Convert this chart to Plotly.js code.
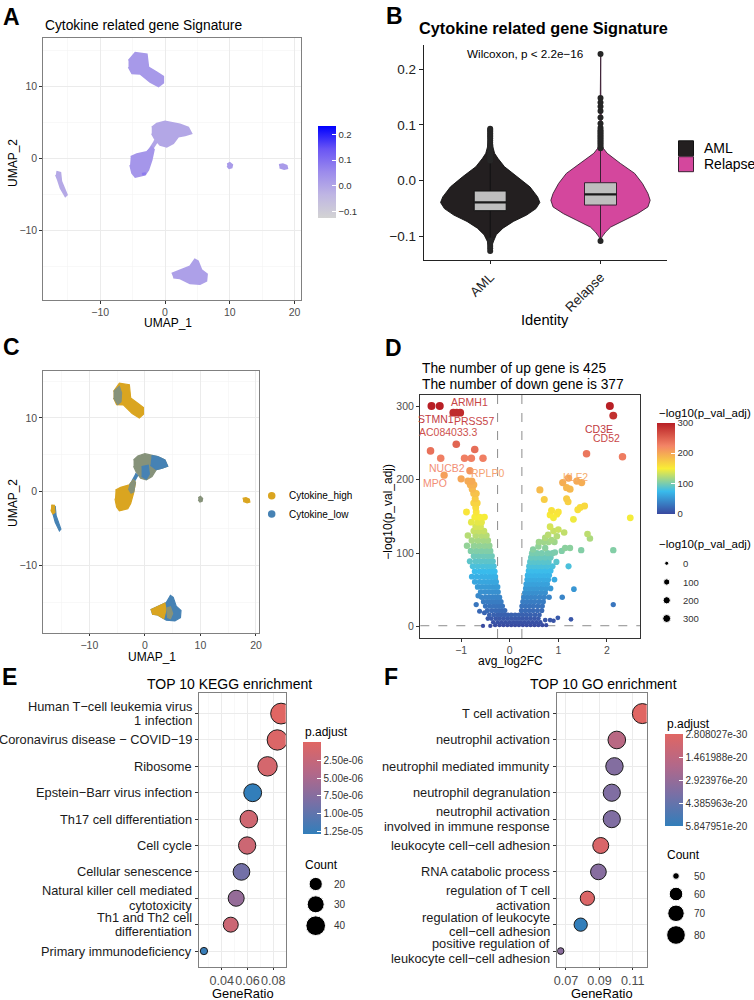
<!DOCTYPE html>
<html><head><meta charset="utf-8">
<script src="https://cdn.plot.ly/plotly-3.0.1.min.js"></script>
<style>html,body{margin:0;padding:0;background:#fff}#chart{width:754px;height:1000px}</style>
</head><body><div id="chart"></div>
<script>
// ================= DATA =================
// Panel A / C : UMAP cluster outlines (UMAP_1, UMAP_2)
const clusterTopX = [-5.64,-4.6,-2.8,-2.56,-1.28,-0.26,-0.26,-1.0,-2.3,-3.85,-5.1,-5.64];
const clusterTopY = [13.6,14.7,14.5,12.7,12.0,11.4,10.5,10.0,10.6,11.75,11.8,12.7];
const clusterMidUpX = [-2.05,-1.28,0,2.3,3.6,4.1,3.1,2.05,1.28,0.26,-0.77,-1.54,-2.05];
const clusterMidUpY = [4.3,4.84,5.16,4.75,4.3,3.46,3.2,3.0,2.07,1.6,1.84,2.63,3.46];
const clusterBridgeX = [-1.7,-1.3,-2.3,-2.7];
const clusterBridgeY = [2.5,2.2,0.8,1.1];
const clusterMidLowX = [-5.3,-4.36,-2.82,-2.05,-1.7,-2.05,-2.56,-3.08,-4.6,-5.1,-5.4];
const clusterMidLowY = [0.23,0.6,0.92,1.6,1.25,-0.23,-1.6,-2.3,-2.6,-2.07,-0.92];
const clusterStreakX = [-16.77,-16.15,-16.0,-15.13,-15.4,-16.15,-16.56,-16.87];
const clusterStreakY = [-1.84,-1.98,-3.2,-5.07,-5.3,-4.15,-3.0,-2.3];
const clusterB10X = [9.6,10.0,10.4,10.3,9.9,9.6];
const clusterB10Y = [-0.8,-0.6,-0.9,-1.3,-1.4,-1.1];
const clusterB18X = [17.6,18.2,18.8,18.9,18.4,17.7];
const clusterB18Y = [-0.9,-0.8,-1.0,-1.4,-1.5,-1.3];
const clusterBottomX = [1.03,2.3,3.85,4.6,5.1,5.64,6.5,6.4,5.4,3.85,2.3,1.28];
const clusterBottomY = [-16.0,-15.5,-15.0,-14.05,-14.3,-15.5,-16.1,-17.05,-17.5,-17.4,-16.7,-16.6];
const spotX = [-3.6,-3.0,-2.95,-3.5];
const spotY = [-2.05,-1.95,-2.25,-2.35];
// Panel A: mean signature score of each outline (same order as drawn) and score range
const clusterScore = [0.025,-0.005,0.0,0.03,-0.01,0.02,0.02,0.01,0.08];
const scoreRange = [-0.125,0.231];
const scoreBreaks = [-0.1,0.0,0.1,0.2];
// Panel C: sub-regions dominated by each group
const cTopMixX = [-5.64,-4.6,-4.2,-4.3,-4.9,-5.64];
const cTopMixY = [13.6,14.3,13.4,12.2,11.8,12.7];
const cMidUpLowX = [1.2,2.3,3.6,4.1,3.1,2.05,1.0];
const cMidUpLowY = [4.9,4.75,4.3,3.46,3.2,3.0,3.6];
const cMidUpLow2X = [-0.6,0.6,0.8,0.26,-0.6];
const cMidUpLow2Y = [3.4,3.6,2.4,1.7,2.1];
const cMidLowMixX = [-2.82,-2.05,-1.7,-2.0,-2.5,-3.0];
const cMidLowMixY = [0.92,1.6,1.25,0.0,-0.2,0.4];
const cStreakHighX = [-16.87,-16.3,-16.2,-16.6,-16.95];
const cStreakHighY = [-1.8,-1.85,-2.8,-3.0,-2.5];
const cBottomHighX = [1.03,2.3,3.6,3.8,3.4,2.3,1.28];
const cBottomHighY = [-16.0,-15.5,-15.1,-16.0,-17.2,-16.7,-16.6];
const cBottomMixX = [3.8,4.6,5.0,4.6,4.0];
const cBottomMixY = [-15.8,-15.6,-16.5,-17.2,-17.0];
const cytoGroups = ['Cytokine_high','Cytokine_low'];

// Panel B: violin profiles (score level, half width), box stats, outliers
const identities = ['AML','Relapse'];
const amlDensY = [-0.126,-0.117,-0.109,-0.097,-0.085,-0.073,-0.0615,-0.050,-0.039,-0.029,-0.011,0.007,0.025,0.040,0.049,0.060,0.075,0.093];
const amlDensW = [0.003,0.012,0.025,0.055,0.116,0.21,0.33,0.415,0.45,0.43,0.36,0.25,0.13,0.07,0.04,0.025,0.014,0.004];
const relDensY = [-0.108,-0.101,-0.092,-0.083,-0.071,-0.059,-0.047,-0.035,-0.023,-0.005,0.013,0.031,0.049,0.058,0.064,0.075,0.150,0.227];
const relDensW = [0.003,0.012,0.046,0.092,0.214,0.336,0.43,0.45,0.43,0.38,0.31,0.18,0.061,0.025,0.012,0.006,0.003,0.002];
const boxQ1 = [-0.0537,-0.0436];
const boxMedian = [-0.0388,-0.0245];
const boxQ3 = [-0.0185,-0.0036];
const boxLowerFence = [-0.105,-0.103];
const boxUpperFence = [0.034,0.056];
const amlOutliers = [0.036,0.040,0.044,0.048,0.052,0.056,0.060,0.064,0.068,0.072,0.076,0.079,0.082,0.085,0.088,0.091,0.093,-0.107,-0.110,-0.113,-0.117,-0.121,-0.126];
const relOutliers = [0.058,0.061,0.064,0.067,0.070,0.073,0.076,0.079,0.082,0.085,0.088,0.091,0.095,0.1025,0.113,0.125,0.133,0.140,0.148,0.227,-0.108];

// Panel D: volcano rows  [-log10(p_val_adj), [avg_log2FC ...]]
const volcanoLeftRows = [
 [300,[-1.61,-1.44]],[291,[-1.16,-1.09,-1.02]],[248,[-1.10]],[241,[-0.72]],[239,[-1.63]],
 [229,[-1.42,-0.93,-0.79,-0.55]],[212,[-0.82]],[206,[-1.35]],[201,[-1.00]],[198,[-0.86,-0.78]],
 [193,[-0.81,-0.74]],[187,[-0.77]],[181,[-0.74,-0.69]],[174,[-0.71]],[168,[-0.74,-0.67]],[162,[-0.70]],
 [156,[-0.89,-0.69]],[149,[-0.72,-0.62,-0.52]],[142,[-0.79,-0.66,-0.58]],[136,[-0.70,-0.60]],
 [130,[-0.74,-0.63,-0.53]],[124,[-0.86,-0.70,-0.58,-0.48]],[117,[-0.78,-0.66,-0.55,-0.45]],
 [110,[-0.88,-0.74,-0.63,-0.52,-0.42]],[103,[-0.80,-0.69,-0.58,-0.48,-0.40]],[96,[-0.74,-0.64,-0.54,-0.45,-0.37]],
 [89,[-0.82,-0.70,-0.60,-0.50,-0.42,-0.35]],[82,[-0.76,-0.66,-0.56,-0.47,-0.39,-0.33]],
 [75,[-0.72,-0.62,-0.53,-0.44,-0.37,-0.31]],[68,[-0.78,-0.68,-0.58,-0.50,-0.42,-0.35,-0.30]],
 [61,[-0.72,-0.62,-0.53,-0.45,-0.38,-0.32,-0.28]],[54,[-0.66,-0.57,-0.49,-0.42,-0.35,-0.29,-0.25]],
 [47,[-0.60,-0.51,-0.43,-0.36,-0.30,-0.24]],[42,[-0.65]],[40,[-0.58,-0.49,-0.41,-0.34,-0.27,-0.21]],
 [34,[-0.54,-0.45,-0.37,-0.30,-0.24,-0.18]],[30,[-0.69]],[28,[-0.50,-0.41,-0.33,-0.26,-0.20,-0.15]],
 [22,[-0.46,-0.37,-0.29,-0.22,-0.16,-0.10]],[21,[-0.62]],[19,[-0.52]],
 [16,[-0.42,-0.33,-0.25,-0.18,-0.11,-0.04,0.03]],[11,[-0.45,-0.38,-0.29,-0.21,-0.13,-0.05,0.03,0.11,0.19]],
 [6,[-0.34,-0.25,-0.17,-0.09,-0.01,0.07,0.15,0.23,0.31]],[2,[-0.30,-0.21,-0.13,-0.05,0.03,0.11,0.19,0.27,0.35]],
 [1,[-0.55,-0.40]]
];
const volcanoRightRows = [
 [300,[2.06]],[287,[2.13]],[235,[1.58]],[231,[2.32]],[202,[1.21]],[198,[1.38]],[196,[1.09,1.48]],
 [189,[1.17]],[187,[1.24]],[186,[0.62]],[174,[1.17]],[173,[0.71]],[170,[1.20]],[164,[1.54]],[162,[1.45]],
 [159,[1.40]],[158,[0.86]],[156,[1.00]],[153,[0.97]],[152,[0.83]],[148,[0.90,2.48]],[146,[1.31]],
 [136,[0.83]],[132,[1.00]],[130,[0.90]],[128,[1.12]],[126,[1.60]],[125,[0.79]],[123,[0.97]],[121,[0.73]],
 [120,[1.65]],[118,[0.86]],[115,[0.60,0.70,0.80,0.92]],[109,[0.59]],[107,[0.73,1.14,1.24]],[105,[0.48]],
 [104,[1.47,2.13]],[103,[1.07]],[101,[0.93]],[100,[0.46,0.56,0.66,0.78,0.88]],[94,[0.44,0.53,0.63,0.73,0.84]],
 [88,[0.42,0.51,0.60,0.70,0.80,0.96]],[82,[0.40,0.49,0.58,0.67,0.77,0.88,1.21]],[76,[0.39,0.47,0.56,0.65,0.74,0.84]],
 [70,[0.37,0.45,0.54,0.63,0.72,0.81]],[64,[0.36,0.44,0.52,0.61,0.70,0.79,0.92]],[58,[0.34,0.42,0.50,0.59,0.68,0.77]],
 [52,[0.33,0.41,0.49,0.57,0.66,0.75,0.84]],[51,[1.32]],[46,[0.31,0.39,0.47,0.55,0.64,0.73]],
 [40,[0.29,0.37,0.45,0.53,0.62,0.71,0.81,1.08]],[34,[0.27,0.35,0.43,0.51,0.60,0.69]],[30,[2.13]],
 [28,[0.25,0.33,0.41,0.49,0.58,0.67]],[22,[0.24,0.32,0.40,0.48,0.57,0.66]],[16,[0.11,0.19,0.27,0.35,0.43,0.52,0.61]],
 [12,[0.99]],[11,[0.27,0.35,0.43,0.51,0.59]],[10,[1.26]],[9,[0.73,0.83]],[8,[0.90]],
 [6,[0.39,0.47,0.55,0.63]],[2,[0.43,0.51,0.59,0.67,0.75]]
];
const volcanoLabelGene = ['STMN1','ARMH1','PRSS57','AC084033.3','NUCB2','MPO','RPLP0','CD3E','CD52','KLF2'];
const volcanoLabelX = [-1.51,-0.83,-0.74,-1.26,-1.29,-1.54,-0.45,1.83,1.99,1.35];
const volcanoLabelY = [283,305,280,265,216,196,209,269,256,204];
const volcanoLabelP = [300,291,291,280,229,229,212,300,288,204];
const upCount = 425, downCount = 377;
const fcCut = 0.25, pCut = -Math.log10(0.05);
const logPBreaks = [0,100,200,300];

// Panel E: KEGG
const keggTerms = ['Human T−cell leukemia virus<br>1 infection','Coronavirus disease − COVID−19','Ribosome','Epstein−Barr virus infection','Th17 cell differentiation','Cell cycle','Cellular senescence','Natural killer cell mediated<br>cytotoxicity','Th1 and Th2 cell<br>differentiation','Primary immunodeficiency'];
const keggRatio = [0.0860,0.0831,0.0755,0.0640,0.0610,0.0597,0.0553,0.0512,0.0470,0.0262];
const keggCount = [45,43,39,33,32,31,29,27,24,14];
const keggPadj = [2e-9,5.0e-7,1.2e-6,1.29e-5,1.6e-6,1.9e-6,8.8e-6,6.5e-6,2.0e-6,1.25e-5];
const keggPBreaks = [2.5e-6,5.0e-6,7.5e-6,1.0e-5,1.25e-5];
const keggCountBreaks = [20,30,40];

// Panel F: GO
const goTerms = ['T cell activation','neutrophil activation','neutrophil mediated immunity','neutrophil degranulation','neutrophil activation<br>involved in immune response','leukocyte cell−cell adhesion','RNA catabolic process','regulation of T cell<br>activation','regulation of leukocyte<br>cell−cell adhesion','positive regulation of<br>leukocyte cell−cell adhesion'];
const goRatio = [0.1157,0.1004,0.0990,0.0974,0.0974,0.0908,0.0894,0.0828,0.0788,0.0668];
const goCount = [87,75,74,73,73,68,67,62,59,50];
const goPadj = [2.808027e-30,1.7e-20,3.5e-20,3.6e-20,3.6e-20,3e-21,3.4e-20,2e-21,5.847951e-20,3.3e-20];
const goCountBreaks = [50,60,70,80];

// ================= STYLE / HELPERS =================
const FONT = '"Liberation Sans", Arial, Helvetica, sans-serif';
const W = 754, H = 1000;
const X = p => p / W, Y = p => 1 - p / H;
const scoreScale = [[0,'#D3D3D3'],[0.25,'#BFB6E3'],[0.5,'#9C8BEC'],[0.75,'#6A55F4'],[1,'#0000FF']];
const volcScale = [[0,'#39489f'],[0.25,'#39bbec'],[0.5,'#f9ed36'],[0.75,'#f38466'],[1,'#b81f25']];
const padjScale = [[0,'#327eba'],[0.35,'#7a6fa5'],[0.65,'#b1688a'],[1,'#e06663']];
const groupColor = {high:'#DAA520', low:'#4682B4', mix:'#86927A'};
function hex(h){h=h.replace('#','');return [0,2,4].map(i=>parseInt(h.substr(i,2),16));}
function scaleColor(scale,t,white){t=Math.max(0,Math.min(1,t));
  for(let i=1;i<scale.length;i++){ if(t<=scale[i][0]){const a=scale[i-1],b=scale[i];const f=(t-a[0])/(b[0]-a[0]);const ca=hex(a[1]),cb=hex(b[1]);
    let c=ca.map((v,k)=>v+(cb[k]-v)*f); if(white) c=c.map(v=>v+(255-v)*white); return 'rgb('+c.map(Math.round).join(',')+')';}}
  return scale[scale.length-1][1];}
function fmtE(v,d){const s=v.toExponential(d).split('e');let e=s[1];const sg=e[0]==='-'?'-':'+';e=e.replace(/^[+-]/,'');if(e.length<2)e='0'+e;return s[0]+'e'+sg+e;}
const mean = a => a.reduce((s,v)=>s+v,0)/a.length;

const traces = [];
const poly = (x,y,col,xa,ya,lw) => ({type:'scatter',mode:'lines',x:x,y:y,fill:'toself',fillcolor:col,line:{color:col,width:lw===undefined?1.6:lw},xaxis:xa,yaxis:ya,hoverinfo:'skip',showlegend:false});

// ---------- Panel A ----------
const aPolys = [[clusterTopX,clusterTopY],[clusterMidUpX,clusterMidUpY],[clusterBridgeX,clusterBridgeY],[clusterMidLowX,clusterMidLowY],
  [clusterStreakX,clusterStreakY],[clusterB10X,clusterB10Y],[clusterB18X,clusterB18Y],[clusterBottomX,clusterBottomY],[spotX,spotY]];
const tOf = s => (s-scoreRange[0])/(scoreRange[1]-scoreRange[0]);
aPolys.forEach((p,i)=>traces.push(poly(p[0],p[1],scaleColor(scoreScale,tOf(clusterScore[i])),'x','y',i===8?0.3:1.6)));
traces.push({type:'scatter',mode:'markers',x:aPolys.map(p=>mean(p[0])),y:aPolys.map(p=>mean(p[1])),xaxis:'x',yaxis:'y',hoverinfo:'skip',showlegend:false,
  marker:{size:0,opacity:0,color:clusterScore,colorscale:scoreScale,cmin:scoreRange[0],cmax:scoreRange[1],showscale:true,
  colorbar:{x:X(318.3),xanchor:'left',y:Y(172.2),yanchor:'middle',len:0.0923,lenmode:'fraction',thickness:18,thicknessmode:'pixels',xpad:0,ypad:0,outlinewidth:0,
   ticks:'inside',ticklen:4,tickcolor:'#fff',tickvals:scoreBreaks,tickformat:'.1f',tickfont:{size:9.5,color:'#333',family:FONT}}}});

// ---------- Panel C ----------
const cPolys = [
 [clusterTopX,clusterTopY,'high'],[cTopMixX,cTopMixY,'mix'],
 [clusterMidUpX,clusterMidUpY,'mix'],[cMidUpLowX,cMidUpLowY,'low'],[cMidUpLow2X,cMidUpLow2Y,'low'],
 [clusterBridgeX,clusterBridgeY,'low'],
 [clusterMidLowX,clusterMidLowY,'high'],[cMidLowMixX,cMidLowMixY,'mix'],
 [clusterStreakX,clusterStreakY,'low'],[cStreakHighX,cStreakHighY,'high'],
 [clusterB10X,clusterB10Y,'mix'],[clusterB18X,clusterB18Y,'high'],
 [clusterBottomX,clusterBottomY,'low'],[cBottomHighX,cBottomHighY,'high'],[cBottomMixX,cBottomMixY,'mix']];
cPolys.forEach(p=>traces.push(poly(p[0],p[1],groupColor[p[2]],'x3','y3',1.2)));

// ---------- Panel B ----------
const violinFill = ['#231F20','#D4479D'], violinLine = ['#111111','#3a1f33'];
const boxHalf = 0.145;
const bLine = (x,y,c,w) => ({type:'scatter',mode:'lines',x:x,y:y,line:{color:c,width:w},xaxis:'x2',yaxis:'y2',hoverinfo:'skip',showlegend:false});
[[amlDensY,amlDensW],[relDensY,relDensW]].forEach((d,g)=>{
  const ys=d[0], ws=d[1];
  const xs = ws.map(w=>g-w).concat(ws.slice().reverse().map(w=>g+w));
  const yy = ys.concat(ys.slice().reverse());
  traces.push({type:'scatter',mode:'lines',x:xs,y:yy,fill:'toself',fillcolor:violinFill[g],line:{color:violinLine[g],width:0.9},xaxis:'x2',yaxis:'y2',hoverinfo:'skip',showlegend:false});
  traces.push(bLine([g,g],[boxQ3[g],boxUpperFence[g]],violinLine[g],1));
  traces.push(bLine([g,g],[boxQ1[g],boxLowerFence[g]],violinLine[g],1));
  traces.push({type:'scatter',mode:'lines',x:[g-boxHalf,g+boxHalf,g+boxHalf,g-boxHalf,g-boxHalf],y:[boxQ1[g],boxQ1[g],boxQ3[g],boxQ3[g],boxQ1[g]],
    fill:'toself',fillcolor:'#BEBEBE',line:{color:violinLine[g],width:1},xaxis:'x2',yaxis:'y2',hoverinfo:'skip',showlegend:false});
  traces.push(bLine([g-boxHalf,g+boxHalf],[boxMedian[g],boxMedian[g]],'#1a1a1a',2.4));
});
[amlOutliers,relOutliers].forEach((o,g)=>traces.push({type:'scatter',mode:'markers',x:o.map(()=>g),y:o,marker:{size:6,color:'#262626',opacity:1},xaxis:'x2',yaxis:'y2',hoverinfo:'skip',showlegend:false}));

// ---------- Panel D ----------
const vFC=[], vP=[];
volcanoLeftRows.concat(volcanoRightRows).sort((a,b)=>a[0]-b[0]).forEach(r=>r[1].forEach(x=>{vFC.push(x);vP.push(r[0]);}));
const vSize = p => 4 + 4*Math.sqrt(Math.max(p,0)/300);
traces.push({type:'scatter',mode:'markers',x:vFC,y:vP,xaxis:'x4',yaxis:'y4',hoverinfo:'skip',showlegend:false,
  marker:{size:vP.map(vSize),opacity:1,color:vP,colorscale:volcScale,cmin:0,cmax:300,line:{width:0},showscale:true,
   colorbar:{x:X(657.3),xanchor:'left',y:Y(468.3),yanchor:'middle',len:0.0913,lenmode:'fraction',thickness:18,thicknessmode:'pixels',xpad:0,ypad:0,outlinewidth:0,
    ticks:'inside',ticklen:4,tickcolor:'#fff',tickvals:logPBreaks,tickfont:{size:9.5,color:'#333',family:FONT}}}});

// ---------- Panel E / F ----------
function sizeFn(counts,dmin,span){const cmin=Math.min(...counts),cmax=Math.max(...counts);return c=>dmin+span*Math.sqrt(Math.max(0,(c-cmin)/(cmax-cmin)));}
const eSize = sizeFn(keggCount,7.3,13.5);
const fSize = sizeFn(goCount,6.7,13.3);
function dotTrace(ratio,terms,counts,padj,sz,xa,ya,breaks,fmt,cbx,cby){
  const pmin=Math.min(...padj),pmax=Math.max(...padj);
  return {type:'scatter',mode:'markers',x:ratio,y:terms,xaxis:xa,yaxis:ya,hoverinfo:'skip',showlegend:false,cliponaxis:true,
    marker:{size:counts.map(sz),opacity:1,color:padj.map(p=>-p),cmin:-pmax,cmax:-pmin,colorscale:padjScale,line:{color:'#1a1a1a',width:1},showscale:true,
     colorbar:{x:cbx,xanchor:'left',y:cby,yanchor:'middle',len:0.0915,lenmode:'fraction',thickness:18,thicknessmode:'pixels',xpad:0,ypad:0,outlinewidth:0,
      ticks:'inside',ticklen:4,tickcolor:'#fff',tickvals:breaks.map(p=>-p),ticktext:breaks.map(fmt),tickfont:{size:10,color:'#333',family:FONT}}}};
}
traces.push(dotTrace(keggRatio,keggTerms,keggCount,keggPadj,eSize,'x5','y5',keggPBreaks,v=>fmtE(v,2),X(303.3),Y(788.5)));
const gmin=Math.min(...goPadj),gmax=Math.max(...goPadj);
const goPBreaks=[0,1,2,3,4].map(k=>gmin+k*(gmax-gmin)/4);
traces.push(dotTrace(goRatio,goTerms,goCount,goPadj,fSize,'x6','y6',goPBreaks,v=>fmtE(v,6),X(665),Y(780.5)));

// ---------- legend keys (page overlay, pixel coordinates) ----------
const ov = (x,y,m) => ({type:'scatter',mode:'markers',x:x,y:y,marker:Object.assign({opacity:1},m),xaxis:'x7',yaxis:'y7',hoverinfo:'skip',showlegend:false,cliponaxis:false});
traces.push(ov([686,686],[148.3,164.2],{symbol:'square',size:15,color:violinFill,line:{color:violinLine,width:1}}));
traces.push(ov([271.7,271.7],[495.7,514],{size:7.5,color:[groupColor.high,groupColor.low]}));
const dLegY=[563.3,582,600.3,618.5];
traces.push(ov(logPBreaks.map(()=>666.7),dLegY,{size:logPBreaks.map(vSize),color:'#000'}));
const eLegY=[884,904.3,925.7];
traces.push(ov(keggCountBreaks.map(()=>315.7),eLegY,{size:keggCountBreaks.map(eSize),color:'#000'}));
const fLegY=[876,894,913.3,935];
traces.push(ov(goCountBreaks.map(()=>676),fLegY,{size:goCountBreaks.map(fSize),color:'#000'}));

// ================= LAYOUT =================
const tickA = {size:10.5,color:'#4D4D4D',family:FONT};
function bwAxis(domain,range,extra){return Object.assign({domain:domain,range:range,showline:true,mirror:true,linecolor:'#808080',linewidth:1,
  ticks:'outside',ticklen:3,tickcolor:'#333',tickwidth:1,zeroline:false,showgrid:true,gridcolor:'#EBEBEB',gridwidth:1,tickfont:tickA,fixedrange:true},extra);}
const minorGrid = d => ({dtick:d,showgrid:true,gridcolor:'#F4F4F4',gridwidth:0.6,ticks:''});

const layout = {
  width:W,height:H,margin:{l:0,r:0,t:0,b:0},paper_bgcolor:'#fff',plot_bgcolor:'rgba(0,0,0,0)',
  font:{family:FONT,color:'#000'},showlegend:false,
  xaxis: bwAxis([X(43.3),X(301)],[-18.8,21.0],{anchor:'y',dtick:10,tick0:0,ticklen:2.5,minor:minorGrid(5)}),
  yaxis: bwAxis([Y(300),Y(38.3)],[-19.7,16.7],{anchor:'x',dtick:10,tick0:0,minor:minorGrid(5)}),
  xaxis3: bwAxis([X(43.3),X(259.3)],[-18.3,20.6],{anchor:'y3',dtick:10,tick0:0,ticklen:2.5,minor:minorGrid(5)}),
  yaxis3: bwAxis([Y(632.7),Y(370.7)],[-19.1,16.4],{anchor:'x3',dtick:10,tick0:0,minor:minorGrid(5)}),
  xaxis2:{domain:[X(424),X(666.7)],range:[-0.6,1.6],anchor:'y2',tickvals:[0,1],ticktext:identities,tickangle:-45,showline:true,linecolor:'#222',linewidth:1.2,
    ticks:'outside',ticklen:3,tickcolor:'#222',showgrid:false,zeroline:false,tickfont:{size:13.3,color:'#222',family:FONT},fixedrange:true},
  yaxis2:{domain:[Y(260),Y(45)],range:[-0.142,0.243],anchor:'x2',tickvals:[-0.1,0,0.1,0.2],tickformat:'.1f',showline:true,linecolor:'#222',linewidth:1.2,
    ticks:'outside',ticklen:4,tickcolor:'#222',showgrid:false,zeroline:false,tickfont:{size:13.5,color:'#222',family:FONT},fixedrange:true},
  xaxis4: bwAxis([X(420.3),X(640)],[-1.84,2.68],{anchor:'y4',dtick:1,tick0:0,showgrid:false,linecolor:'#333',linewidth:1.3,ticklen:2.5}),
  yaxis4: bwAxis([Y(638),Y(395)],[-15.4,315],{anchor:'x4',dtick:100,tick0:0,showgrid:false,linecolor:'#333',linewidth:1.3}),
  xaxis5: bwAxis([X(199.3),X(285.7)],[0.0226,0.0896],{anchor:'y5',dtick:0.02,tick0:0.04,tickformat:'.2f',tickangle:0,ticklen:2,minor:minorGrid(0.01),tickfont:{size:12.6,color:'#4D4D4D',family:FONT}}),
  yaxis5: bwAxis([Y(966.7),Y(693.3)],[9.594,-0.769],{anchor:'x5',type:'category',categoryorder:'array',categoryarray:keggTerms,showticklabels:false}),
  xaxis6: bwAxis([X(557.3),X(646.7)],[0.0648,0.1183],{anchor:'y6',dtick:0.02,tick0:0.07,tickformat:'.2f',tickangle:0,ticklen:2,minor:minorGrid(0.01),tickfont:{size:12.6,color:'#4D4D4D',family:FONT}}),
  yaxis6: bwAxis([Y(966.7),Y(693.3)],[9.594,-0.769],{anchor:'x6',type:'category',categoryorder:'array',categoryarray:goTerms,showticklabels:false}),
  xaxis7:{domain:[0,1],range:[0,W],visible:false,anchor:'y7',fixedrange:true},
  yaxis7:{domain:[0,1],range:[H,0],visible:false,anchor:'x7',fixedrange:true},
  shapes:[
    {type:'line',xref:'x4',yref:'y4 domain',x0:-fcCut,x1:-fcCut,y0:0,y1:1,line:{color:'#8c8c8c',width:1,dash:'dash'},layer:'below'},
    {type:'line',xref:'x4',yref:'y4 domain',x0:fcCut,x1:fcCut,y0:0,y1:1,line:{color:'#8c8c8c',width:1,dash:'dash'},layer:'below'},
    {type:'line',xref:'x4 domain',yref:'y4',x0:0,x1:1,y0:pCut,y1:pCut,line:{color:'#8c8c8c',width:1,dash:'dash'},layer:'below'}
  ],
  annotations:[]
};
const A = layout.annotations;
function ann(text,x,y,size,o){A.push(Object.assign({text:text,xref:'paper',yref:'paper',x:X(x),y:Y(y),showarrow:false,xanchor:'center',yanchor:'middle',
  font:{size:size,color:(o&&o.color)||'#000',family:FONT}},o||{}));}
// category labels of E / F, one line per annotation so the line spacing matches
function termLabels(terms,ya,xRight){terms.forEach(t=>{const lines=t.split('<br>');lines.forEach((ln,k)=>A.push({text:ln,xref:'paper',yref:ya,x:X(xRight),y:t,
  yshift:((lines.length-1)/2-k)*14.6,showarrow:false,xanchor:'right',yanchor:'middle',font:{size:12.8,color:'#1A1A1A',family:FONT}}));});}
termLabels(keggTerms,'y5',193.8);
termLabels(goTerms,'y6',551.5);
// panel letters
[['A',11,17.5],['B',394,16.5],['C',11,347.5],['D',393,348],['E',9,677],['F',391,677]].forEach(l=>ann('<b>'+l[0]+'</b>',l[1],l[2],23));
// A
ann('Cytokine related gene Signature',43.3,25,13.8,{xanchor:'left'});
ann('UMAP_1',168,323,12);
ann('UMAP_2',13,163,12,{textangle:-90});
// B
ann('<b>Cytokine related gene Signature</b>',543.7,28,16.3);
ann('Wilcoxon, p &lt; 2.2e−16',524.7,53.5,11.7);
ann('Identity',545.3,320,14.7);
identities.forEach((id,i)=>ann(id,702,[148.3,164.2][i],14,{xanchor:'left'}));
// C
ann('UMAP_1',151.7,656.5,12);
ann('UMAP_2',13,503,12,{textangle:-90});
cytoGroups.forEach((g,i)=>ann(g,287,[495.7,514][i],10,{xanchor:'left'}));
// D
ann('The number of up gene is '+upCount,420.3,368.7,13.8,{xanchor:'left'});
ann('The number of down gene is '+downCount,420.3,384.3,13.8,{xanchor:'left'});
ann('avg_log2FC',510,661,12);
ann('−log10(p_val_adj)',388,511.7,12,{textangle:-90});
ann('−log10(p_val_adj)',657.3,413.3,11.5,{xanchor:'left'});
ann('−log10(p_val_adj)',657.3,544,11.5,{xanchor:'left'});
logPBreaks.forEach((b,i)=>ann(String(b),680.5,dLegY[i],9.5,{xanchor:'left',color:'#333'}));
volcanoLabelGene.forEach((g,i)=>A.push({text:g,xref:'x4',yref:'y4',x:volcanoLabelX[i],y:volcanoLabelY[i],showarrow:false,xanchor:'center',yanchor:'middle',
  font:{size:10.5,family:FONT,color:scaleColor(volcScale,volcanoLabelP[i]/300,0.12)}}));
// E
ann('TOP 10 KEGG enrichment',229.2,684,14);
ann('GeneRatio',242.5,993,12.9);
ann('p.adjust',303.3,731.7,12,{xanchor:'left'});
ann('Count',303.3,865,12,{xanchor:'left'});
keggCountBreaks.forEach((b,i)=>ann(String(b),331.7,eLegY[i],10,{xanchor:'left',color:'#333'}));
// F
ann('TOP 10 GO enrichment',603.7,684,14);
ann('GeneRatio',601.7,993,12.9);
ann('p.adjust',665,724,12,{xanchor:'left'});
ann('Count',665,855,12,{xanchor:'left'});
goCountBreaks.forEach((b,i)=>ann(String(b),692,fLegY[i],10,{xanchor:'left',color:'#333'}));

Plotly.newPlot('chart',traces,layout,{displayModeBar:false,staticPlot:true});
</script></body></html>
